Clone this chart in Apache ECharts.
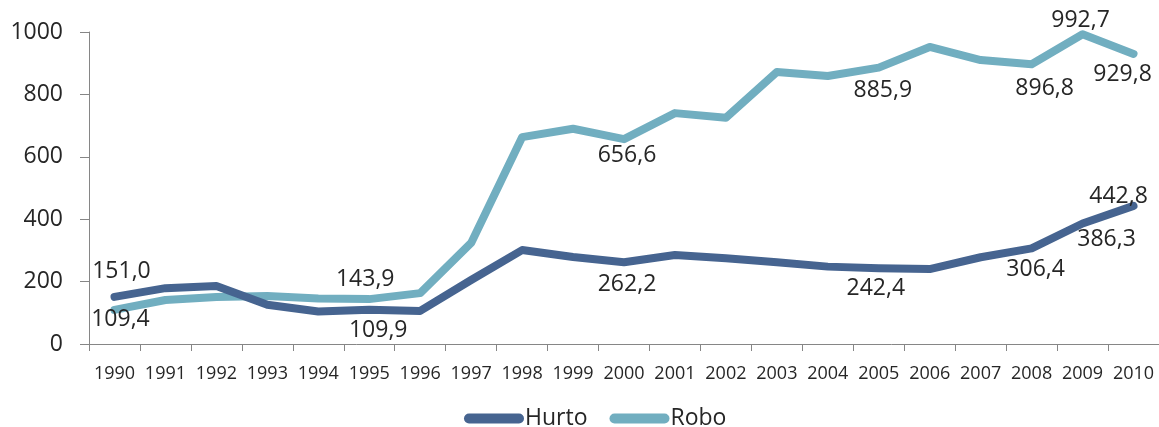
<!DOCTYPE html>
<html>
<head>
<meta charset="utf-8">
<script src="https://cdn.jsdelivr.net/npm/echarts@6/dist/echarts.min.js"></script>
<style>
html,body{margin:0;padding:0;background:#fff;}
#c{width:1159px;height:427px;}
</style>
</head>
<body>
<div id="c"></div>
<script>
const years = ['1990','1991','1992','1993','1994','1995','1996','1997','1998','1999','2000','2001','2002','2003','2004','2005','2006','2007','2008','2009','2010'];
const hurto = [151.0,179,186,126,104,109.9,106,205,301,279,262.2,285,275,262,248,242.4,240,278,306.4,386.3,442.8];
const robo  = [109.4,141,151,154,146,143.9,163,324,663,690,656.6,740,725,872,859,885.9,952,910,896.8,992.7,929.8];
const yTicks = [0,200,400,600,800,1000];

// labelled points: [index, dx, dy] (label centre offset from point)
const hurtoLabels = [[0,7,-25],[5,9,21],[10,3,22],[15,-3,20],[18,4,21],[19,24,16],[20,-15,-9]];
const roboLabels  = [[0,6,10],[5,-4,-20],[10,3,16],[15,4,23],[18,13,24],[19,-2,-14],[20,-11,21]];

const fmt = v => v.toFixed(1).replace('.', ',');
function build(values, labels){
  return values.map((v,i)=>{
    const l = labels.find(x=>x[0]===i);
    if(!l) return v;
    return {value:v, label:{show:true, position:'inside', offset:[l[1],l[2]], formatter:()=>fmt(v)}};
  });
}

const FONT = '"Open Sans", sans-serif';
const chart = echarts.init(document.getElementById('c'));
chart.setOption({
  animation:false,
  grid:{left:89, top:32, width:1071, height:312, containLabel:false},
  legend:{
    left:459, top:402,
    itemWidth:60, itemHeight:10, itemGap:22,
    icon:'path://M5,0 L55,0 A5,5 0 0 1 55,10 L5,10 A5,5 0 0 1 5,0 Z',
    textStyle:{fontFamily:FONT, fontSize:23, color:'#262626', padding:[0,0,0,-4]},
    data:['Hurto','Robo']
  },
  xAxis:{
    type:'category', data:years, boundaryGap:true,
    axisLine:{lineStyle:{color:'#868686', width:1}},
    axisTick:{show:true, length:7, alignWithLabel:false, lineStyle:{color:'#868686'}},
    axisLabel:{fontFamily:FONT, fontSize:18, color:'#262626', margin:21, interval:0}
  },
  yAxis:{
    type:'value', min:0, max:1000, interval:200,
    splitLine:{show:false},
    axisLine:{show:true, lineStyle:{color:'#868686', width:1}},
    axisTick:{show:true, length:9, lineStyle:{color:'#868686'}},
    axisLabel:{fontFamily:FONT, fontSize:23, color:'#262626', margin:26,
      formatter:v=>yTicks.includes(v)?String(v):''}
  },
  series:[
    {name:'Hurto', type:'line', data:build(hurto,hurtoLabels), symbol:'circle', symbolSize:0.01,
      itemStyle:{color:'#466490'},
      lineStyle:{color:'#466490', width:8, cap:'round', join:'round'},
      label:{show:false, fontFamily:FONT, fontSize:23, color:'#262626'}, z:3},
    {name:'Robo', type:'line', data:build(robo,roboLabels), symbol:'circle', symbolSize:0.01,
      itemStyle:{color:'#71AEC0'},
      lineStyle:{color:'#71AEC0', width:8, cap:'round', join:'round'},
      label:{show:false, fontFamily:FONT, fontSize:23, color:'#262626'}, z:2}
  ]
});
</script>
</body>
</html>
